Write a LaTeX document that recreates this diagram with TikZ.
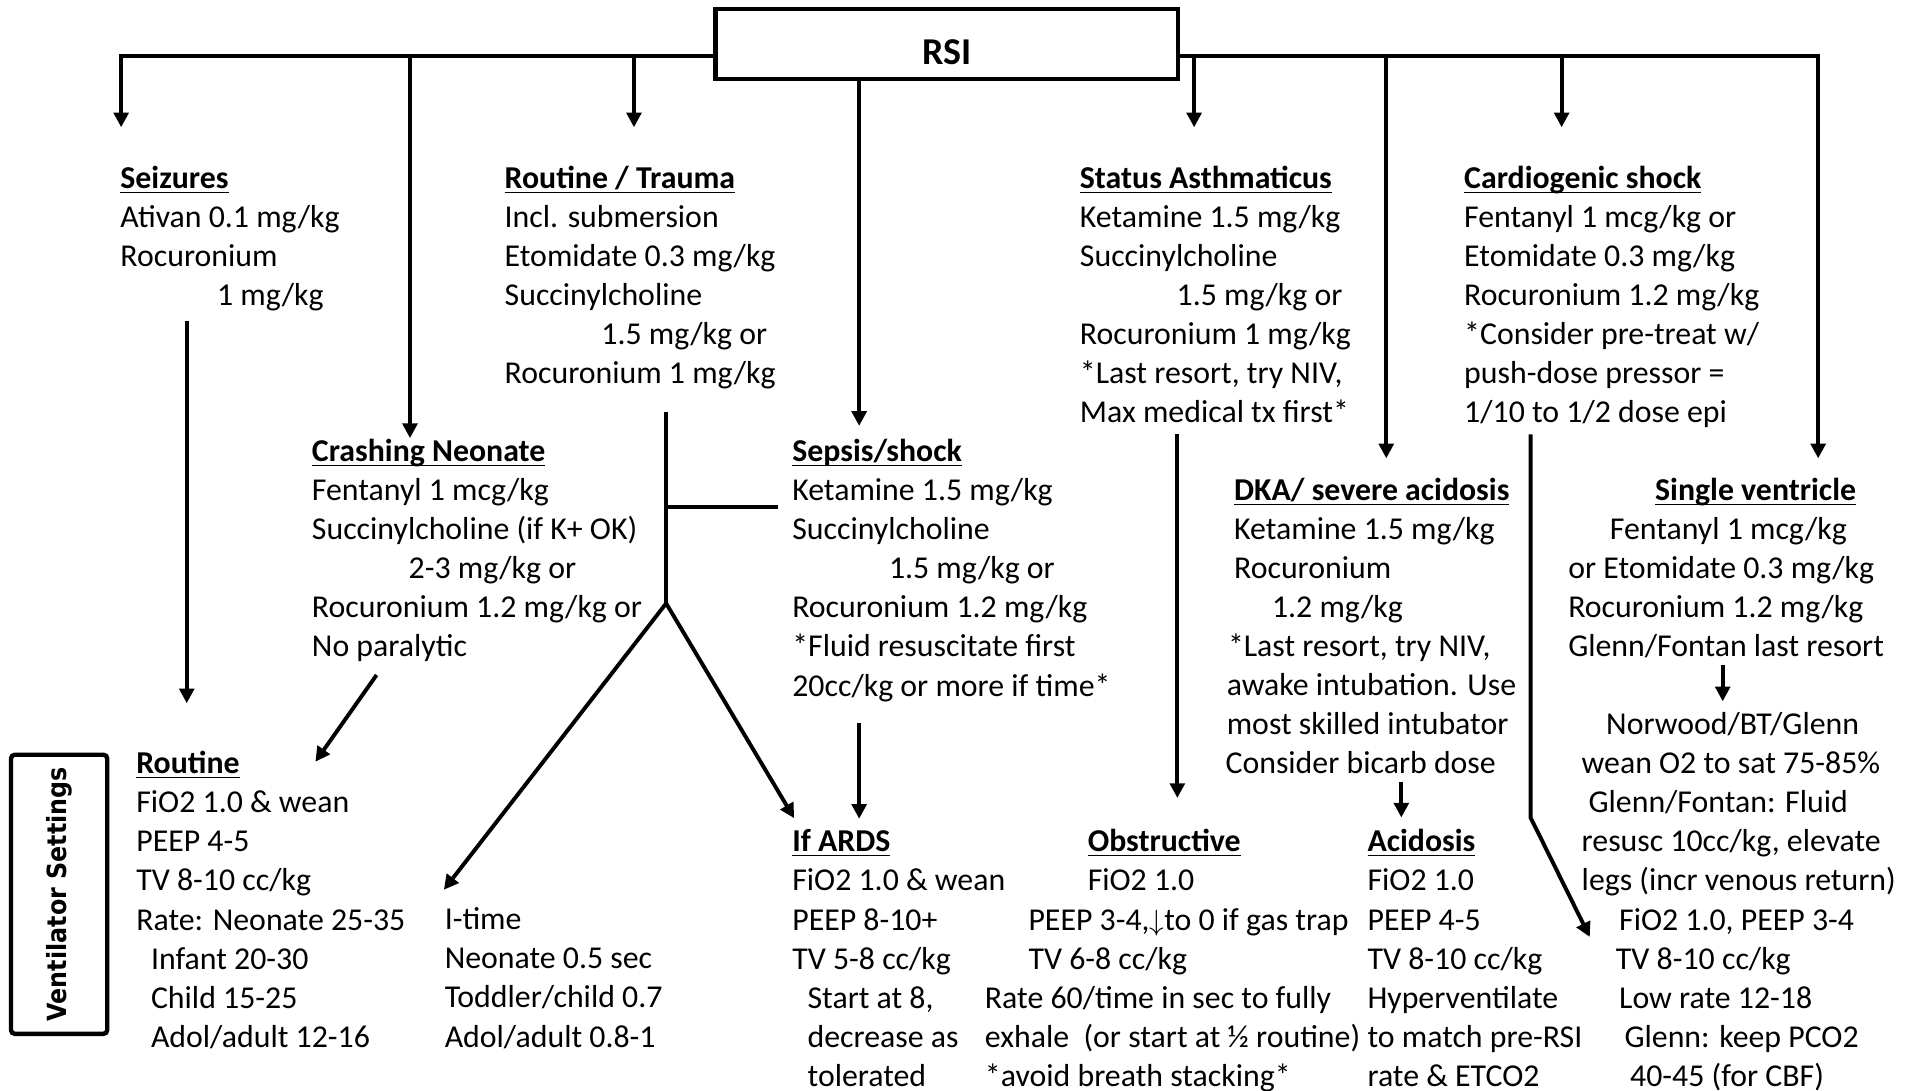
\documentclass[tikz,border=0pt]{standalone}
\usepackage{fontspec}
\setmainfont{Carlito}
\newfontfamily\ventfont{DejaVu Sans}[FakeStretch=0.9]
\usetikzlibrary{arrows.meta}

\newcommand\body{\fontsize{13}{15.95}\selectfont}
\newcommand\st{\rule{0pt}{11pt}}
\newcommand\hd[1]{\st\underline{\smash{\textbf{#1}}}}
\newcommand\tb{\hspace*{39.5pt}}

\begin{document}
\begin{tikzpicture}[x=0.5pt,y=-0.5pt,
  ln/.style={line width=1.6pt},
  arr/.style={ln,-{Triangle[width=6pt,length=6pt]}},
  arrs/.style={ln,{Triangle[width=6pt,length=6pt]}-{Triangle[width=6pt,length=6pt]}},
  txt/.style={anchor=north west,align=left,inner sep=0pt,font=\body},
  frame/.style={draw,line width=1.8pt,inner sep=0pt}]
\useasboundingbox (0,0) rectangle (1568,891);

% top box
\node[frame,minimum width=189pt,minimum height=28.5pt,text height=16.6pt,text depth=0pt,
  font=\fontsize{15.5}{17}\selectfont\bfseries] (rsi) at (773.5,36) {RSI};

% first row
\node[txt] (seiz) at (98,131.7) {\hd{Seizures}\\ Ativan 0.1 mg/kg\\ Rocuronium\\ \tb 1 mg/kg};
\node[txt] (rt) at (412,131.7) {\hd{Routine / Trauma}\\ Incl. submersion\\ Etomidate 0.3 mg/kg\\
  Succinylcholine\\ \tb 1.5 mg/kg or\\ Rocuronium 1 mg/kg};
\node[txt] (sa) at (882,131.7) {\hd{Status Asthmaticus}\\ Ketamine 1.5 mg/kg\\ Succinylcholine\\
  \tb 1.5 mg/kg or\\ Rocuronium 1 mg/kg\\ *Last resort, try NIV,\\ Max medical tx first*};
\node[txt] (cs) at (1196,131.7) {\hd{Cardiogenic shock}\\ Fentanyl 1 mcg/kg or\\ Etomidate 0.3 mg/kg\\
  Rocuronium 1.2 mg/kg\\ *Consider pre-treat w/\\ push-dose pressor =\\ 1/10 to 1/2 dose epi};

% second row
\node[txt] (neo) at (254.5,354.9) {\hd{Crashing Neonate}\\ Fentanyl 1 mcg/kg\\ Succinylcholine (if K+ OK)\\
  \tb 2-3 mg/kg or\\ Rocuronium 1.2 mg/kg or\\ No paralytic};
\node[txt] (sep) at (647,354.9) {\hd{Sepsis/shock}\\ Ketamine 1.5 mg/kg\\ Succinylcholine\\
  \tb 1.5 mg/kg or\\ Rocuronium 1.2 mg/kg\\ *Fluid resuscitate first\\ 20cc/kg or more if time*};
\node[txt] (dka) at (1001,386.7) {\hspace*{3.5pt}\hd{DKA/ severe acidosis}\\ \hspace*{3.5pt}Ketamine 1.5 mg/kg\\
  \hspace*{3.5pt}Rocuronium\\ \hspace*{19pt}1.2 mg/kg\\ \hspace*{1pt}*Last resort, try NIV,\\
  \hspace*{0.5pt}awake intubation. Use\\ \hspace*{0.5pt}most skilled intubator\\ Consider bicarb dose};
\node[txt] (sv) at (1281,386.7) {\hspace*{35.5pt}\hd{Single ventricle}\\ \hspace*{17pt}Fentanyl 1 mcg/kg\\
  or Etomidate 0.3 mg/kg\\ Rocuronium 1.2 mg/kg\\ Glenn/Fontan last resort};
\node[txt] (nor) at (1292,578) {\st\hspace*{10pt}Norwood/BT/Glenn\\ wean O2 to sat 75-85\%\\
  \hspace*{2.8pt}Glenn/Fontan: Fluid\\ resusc 10cc/kg, elevate\\ legs (incr venous return)\\
  \hspace*{15.3pt}FiO2 1.0, PEEP 3-4\\ \hspace*{14pt}TV 8-10 cc/kg\\ \hspace*{15.3pt}Low rate 12-18\\
  \hspace*{17.5pt}Glenn: keep PCO2\\ \hspace*{19.8pt}40-45 (for CBF)};

% ventilator settings
\node[frame,rotate=90,minimum width=114pt,minimum height=39.3pt,rounded corners=1.5pt,
  font=\ventfont\fontsize{10.8}{12}\selectfont\bfseries] (vent) at (48.3,730.7) {Ventilator Settings};
\node[txt] (rv) at (111,609.9) {\hd{Routine}\\ FiO2 1.0 \& wean\\ PEEP 4-5\\ TV 8-10 cc/kg\\
  Rate: Neonate 25-35\\ \hspace*{6pt}Infant 20-30\\ \hspace*{6pt}Child 15-25\\ \hspace*{6pt}Adol/adult 12-16};
\node[txt] (itime) at (363,737.4) {\st I-time\\ Neonate 0.5 sec\\ Toddler/child 0.7\\ Adol/adult 0.8-1};
\node[txt] (ards) at (647,673.7) {\hd{If ARDS}\\ FiO2 1.0 \& wean\\ PEEP 8-10+\\ TV 5-8 cc/kg\\
  \hspace*{6.25pt}Start at 8,\\ \hspace*{6.25pt}decrease as\\ \hspace*{6.25pt}tolerated};
\node[txt] (obs) at (804.4,673.7) {\hspace*{42pt}\hd{Obstructive}\\ \hspace*{42pt}FiO2 1.0\\
  \hspace*{17.8pt}PEEP 3-4,$\downarrow$to 0 if gas trap\\ \hspace*{17.8pt}TV 6-8 cc/kg\\
  Rate 60/time in sec to fully\\ exhale\ \ (or start at ½ routine)\\ *avoid breath stacking*};
\node[txt] (acid) at (1117,673.7) {\hd{Acidosis}\\ FiO2 1.0\\ PEEP 4-5\\ TV 8-10 cc/kg\\
  Hyperventilate\\ to match pre-RSI\\ rate \& ETCO2};

% bus and drops
\coordinate (busL) at (99,45.5);
\coordinate (busR) at (1485.6,45.5);
\coordinate (seiz-in) at (99,104);
\coordinate (neo-in) at (335,358);
\coordinate (rt-in) at (518,104);
\coordinate (sep-in) at (702,348);
\coordinate (sa-in) at (975.7,104);
\coordinate (dka-in) at (1132.7,374.5);
\coordinate (cs-in) at (1276,104);
\coordinate (sv-in) at (1485.6,374.5);
\draw[arr] (rsi.west |- busL) -- (busL) -- (seiz-in);
\draw[arr] (rsi.east |- busR) -- (busR) -- (sv-in);
\foreach \c in {neo-in,rt-in,sa-in,dka-in,cs-in}
  \draw[arr] (\c |- busL) -- (\c);
\draw[arr] (sep-in |- rsi.south) -- (sep-in);

% down to the ventilator settings
\coordinate (seiz-dn) at (152.6,262);
\coordinate (rv-in) at (152.6,574.6);
\coordinate (neo-dn) at (307.7,551.5);
\coordinate (rv-in2) at (257.7,622.4);
\coordinate (rt-dn) at (544.3,336.4);
\coordinate (fork) at (544.3,493);
\coordinate (sep-lk) at (635.4,414.3);
\coordinate (itime-in) at (362.7,727);
\coordinate (ards-in) at (648.9,668.5);
\coordinate (sep-dn) at (702,591);
\coordinate (ards-in2) at (702,669);
\coordinate (sa-dn) at (962,355);
\coordinate (obs-in) at (962,652);
\coordinate (dka-dn) at (1145,638.7);
\coordinate (acid-in) at (1145,668);
\coordinate (cs-dn) at (1250.6,355);
\coordinate (cs-bend) at (1250.6,668);
\coordinate (svv-in) at (1299,765.6);
\coordinate (sv-dn) at (1407.6,543);
\coordinate (nor-in) at (1407.6,573);

\draw[arr] (seiz-dn) -- (rv-in);
\draw[arr] (neo-dn) -- (rv-in2);
\draw[ln] (rt-dn) -- (fork);
\draw[ln] (rt-dn |- sep-lk) -- (sep-lk);
\draw[arrs] (itime-in) -- (fork) -- (ards-in);
\draw[arr] (sep-dn) -- (ards-in2);
\draw[arr] (sa-dn) -- (obs-in);
\draw[arr] (dka-dn) -- (acid-in);
\draw[arr] (cs-dn) -- (cs-bend) -- (svv-in);
\draw[arr] (sv-dn) -- (nor-in);
\end{tikzpicture}
\end{document}
